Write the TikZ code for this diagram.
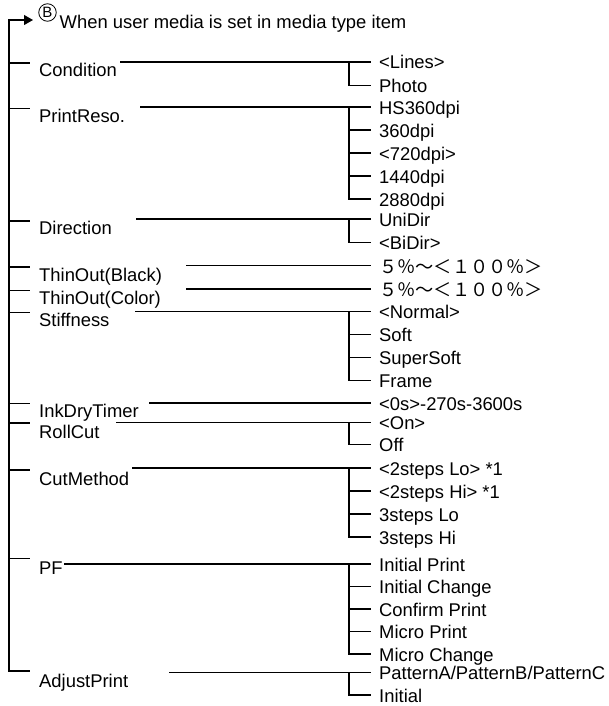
\documentclass[tikz,border=0pt]{standalone}
\usepackage{fontspec}
\setmainfont{Liberation Sans}
\newfontfamily\cjkfont{Noto Sans CJK JP}
\usetikzlibrary{arrows.meta}
\begin{document}
\begin{tikzpicture}[x=1pt,y=-1pt,
  wire/.style={line width=1.1pt,black},
  lbl/.style={anchor=base west,inner sep=0pt,font=\fontsize{18.4}{20}\selectfont},
  cjkval/.style={anchor=base west,inner sep=0pt,font=\cjkfont\fontsize{18.2}{20}\selectfont},
  circletter/.style={circle,draw,line width=0.8pt,minimum size=17.5pt,inner sep=0pt,font=\fontsize{15}{15}\selectfont}]
\useasboundingbox (0,0) rectangle (608,706);

% ---- trunk and title
\coordinate (arrEnd) at (33,20);
\coordinate (trTop) at (9,20);
\coordinate (trBot) at (9,671);
\coordinate (adjS) at (30,671);
\draw[wire,{Triangle[length=9pt,width=10pt]}-] (arrEnd) -- (trTop) -- (trBot) -- (adjS);
\node[circletter] (bmark) at (47.5,12.5) {B};
\node[lbl] (title) at (59.5,28.5) {When user media is set in media type item};

% ---- left stubs
\foreach \n/\y in {cond/63,reso/108.5,dir/221,tob/267,toc/290.5,stf/312.6,ink/403.7,rc/423,cm/470,pf/558.7}{
  \coordinate (\n S) at (9,\y);
  \coordinate (\n E) at (30,\y);
  \draw[wire] (\n S) -- (\n E);
}

% ---- labels
\node[lbl] (cond) at (39,77) {Condition};
\node[lbl] (reso) at (39,123) {PrintReso.};
\node[lbl] (dir) at (39,234) {Direction};
\node[lbl] (tob) at (39,281) {ThinOut(Black)};
\node[lbl] (toc) at (39,304.5) {ThinOut(Color)};
\node[lbl] (stf) at (39,326.5) {Stiffness};
\node[lbl] (ink) at (39,417) {InkDryTimer};
\node[lbl] (rc) at (39,438) {RollCut};
\node[lbl] (cm) at (39,485) {CutMethod};
\node[lbl] (pf) at (39,574) {PF};
\node[lbl] (adj) at (39,687.5) {AdjustPrint};

% ---- branch groups: name / start x / line y / list of options
\newcommand{\optgroup}[4]{%
  \coordinate (#1A) at (#2,#3);
  \foreach \y/\t [count=\i] in {#4}{
    \coordinate (#1J\i) at (349,\y);
    \coordinate (#1T\i) at (371,\y);
    \node[lbl] (#1O\i) at (379,\y+7) {\t};
    \ifnum\i=1
      \draw[wire] (#1A) -- (#1T\i);
    \else
      \draw[wire] (#1J1) -- (#1J\i) -- (#1T\i);
    \fi
  }
}
\optgroup{gcond}{120}{62}{62/{<Lines>},85.5/Photo}
\optgroup{greso}{140}{107}{107/HS360dpi,130/360dpi,153/{<720dpi>},176/1440dpi,199/2880dpi}
\optgroup{gdir}{136}{219}{219/UniDir,242.5/{<BiDir>}}
\optgroup{gstf}{135}{311.6}{311.6/{<Normal>},334.8/Soft,357.7/SuperSoft,380.9/Frame}
\optgroup{grc}{116}{422.4}{422.4/{<On>},444.5/Off}
\optgroup{gcm}{132}{468}{468/{<2steps Lo> *1},491/{<2steps Hi> *1},514/3steps Lo,537/3steps Hi}
\optgroup{gpf}{64}{564}{564/Initial Print,586.5/Initial Change,609/Confirm Print,631.5/Micro Print,654/Micro Change}
\optgroup{gadj}{169}{672.5}{672.5/PatternA\slash PatternB\slash PatternC,695/Initial}

% ---- single value rows
\coordinate (tobA) at (186,265.5);
\coordinate (tobT) at (371,265.5);
\draw[wire] (tobA) -- (tobT);
\node[cjkval] (tobV) at (379,273) {５％～＜１００％＞};
\coordinate (tocA) at (186,289);
\coordinate (tocT) at (371,289);
\draw[wire] (tocA) -- (tocT);
\node[cjkval] (tocV) at (379,296) {５％～＜１００％＞};
\coordinate (inkA) at (149,403);
\coordinate (inkT) at (371,403);
\draw[wire] (inkA) -- (inkT);
\node[lbl] (inkV) at (379,410) {<0s>-270s-3600s};
\end{tikzpicture}
\end{document}
